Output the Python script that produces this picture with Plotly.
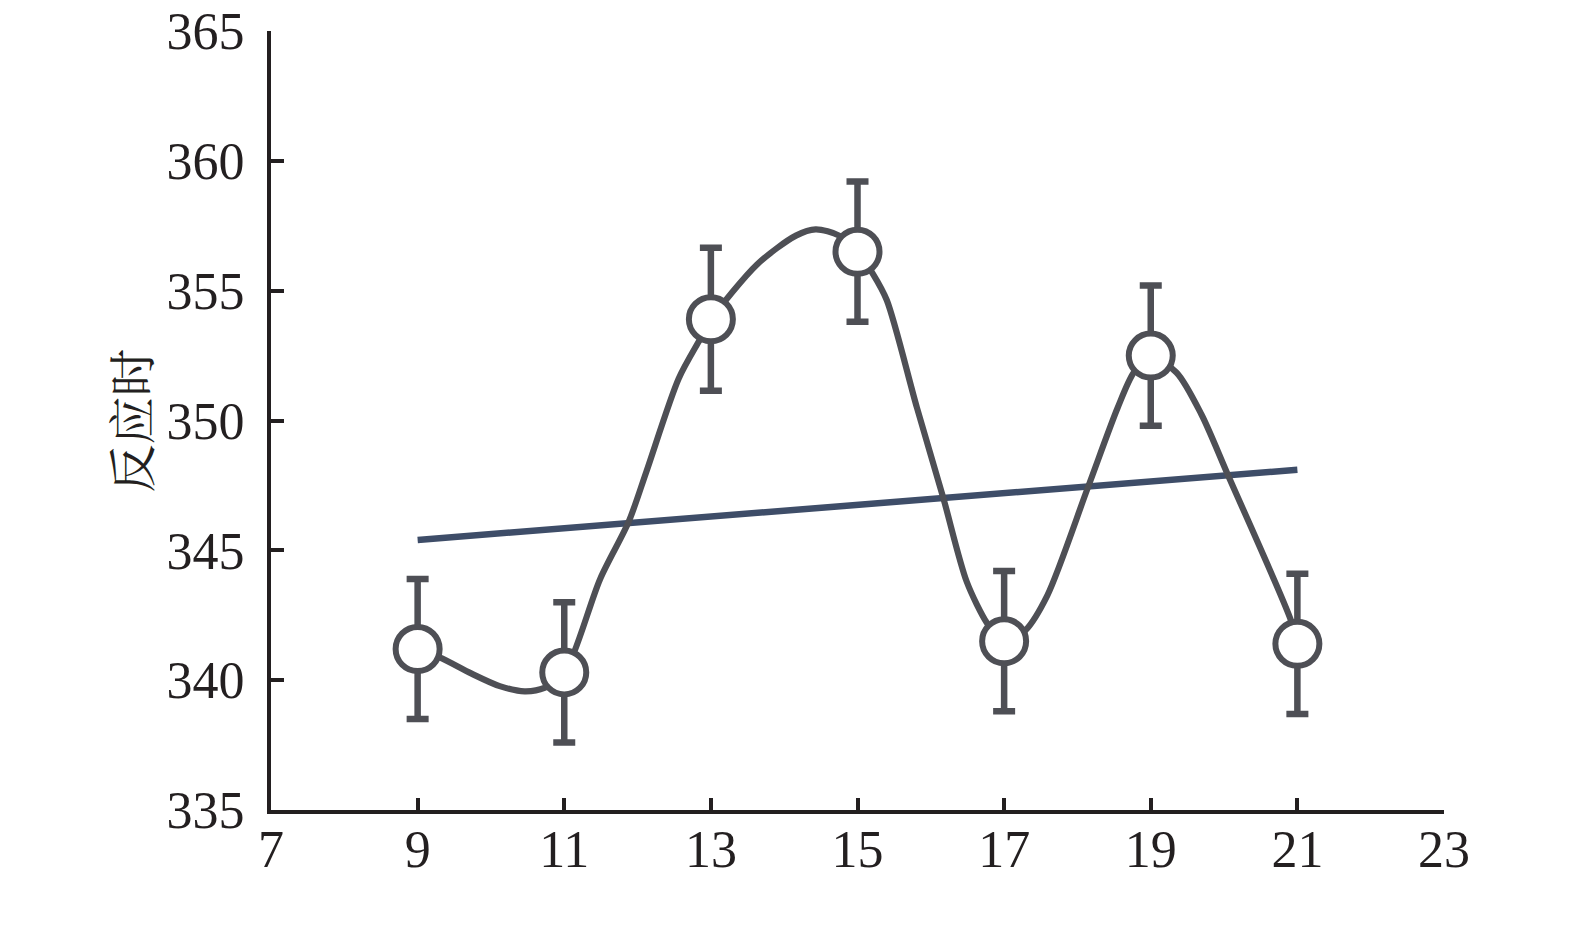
import plotly.graph_objects as go

# group means with error bars
ages = [9, 11, 13, 15, 17, 19, 21]
rt_mean = [341.2, 340.3, 353.9, 356.5, 341.5, 352.5, 341.4]
rt_err = [2.7, 2.7, 2.75, 2.7, 2.7, 2.7, 2.7]

# smoothed curve
curve_x = [9.0, 9.3, 9.73, 10.12, 10.46, 10.73, 11.0, 11.49, 11.88, 12.12, 12.56, 12.85,
           13.0, 13.63, 14.16, 14.43, 14.75, 15.0, 15.21, 15.4, 15.81, 16.17, 16.49, 16.77,
           17.0, 17.29, 17.59, 18.14, 18.55, 18.77, 19.0, 19.35, 19.69, 20.05, 20.92, 21.0]
curve_y = [341.15, 340.88, 340.26, 339.77, 339.57, 339.7, 340.26, 343.9, 346.11, 348.03, 351.61, 353.12,
           353.88, 356.01, 357.12, 357.36, 357.12, 356.5, 355.65, 354.63, 350.5, 347.02, 343.79, 342.18,
           341.4, 341.92, 343.27, 347.4, 350.5, 351.85, 352.43, 351.85, 350.24, 347.92, 342.24, 341.34]

# linear trend
trend_x = [9, 21]
trend_y = [345.4, 348.1]

x_ticks = [7, 9, 11, 13, 15, 17, 19, 21, 23]
y_ticks = [335, 340, 345, 350, 355, 360, 365]

GREY = "#4e4f55"
SLATE = "#3e4d68"
INK = "#231f20"

fig = go.Figure()
fig.add_trace(go.Scatter(x=trend_x, y=trend_y, mode="lines",
                         line={"color": SLATE, "width": 6.5}, hoverinfo="skip"))
fig.add_trace(go.Scatter(x=curve_x, y=curve_y, mode="lines",
                         line={"color": GREY, "width": 6.2, "shape": "spline", "smoothing": 0.8},
                         hoverinfo="skip"))
fig.add_trace(go.Scatter(
    x=ages, y=rt_mean, mode="markers",
    marker={"symbol": "circle", "size": 44, "color": "white", "line": {"color": GREY, "width": 6}},
    error_y={"type": "data", "array": rt_err, "visible": True, "color": GREY, "thickness": 6.5, "width": 11},
))

axis_font = {"family": "Liberation Serif, Times New Roman, serif", "size": 52, "color": INK}
fig.update_xaxes(range=[7, 23], tickvals=x_ticks, ticks="inside", ticklen=12, tickwidth=4,
                 tickcolor=INK, showline=True, linecolor=INK, linewidth=4, showgrid=False,
                 zeroline=False, tickfont=axis_font, ticklabelstandoff=-9, automargin=False,
                 ticklabeloverflow="allow")
fig.update_yaxes(range=[335, 365], tickvals=y_ticks, ticks="inside", ticklen=13, tickwidth=4,
                 tickcolor=INK, showline=True, linecolor=INK, linewidth=4, showgrid=False,
                 zeroline=False, tickfont=axis_font, ticklabelstandoff=12, automargin=False,
                 ticklabeloverflow="allow")

fig.add_annotation(text="反应时", xref="paper", yref="paper", x=-0.121, y=0.5,
                   xanchor="center", yanchor="middle", textangle=-90, showarrow=False,
                   font={"family": "Noto Serif CJK SC, Noto Sans CJK SC", "size": 48, "color": INK})

# page body adds an 8px offset, so shift margins to land the plot area in place
fig.update_layout(
    width=1575, height=950, showlegend=False,
    paper_bgcolor="white", plot_bgcolor="white",
    margin={"l": 263, "r": 139, "t": 23, "b": 148},
)

fig.write_html("out.html")
